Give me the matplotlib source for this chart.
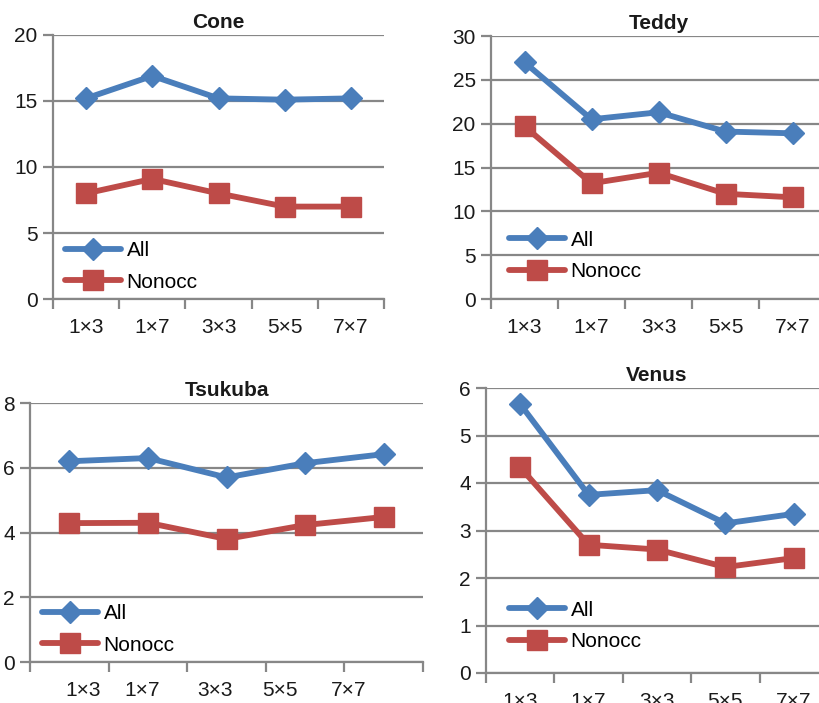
import numpy as np
import matplotlib
matplotlib.use("Agg")
import matplotlib.pyplot as plt

plt.rcParams['font.family'] = ['Liberation Sans', 'DejaVu Sans']

categories = ["1\u00d73", "1\u00d77", "3\u00d73", "5\u00d75", "7\u00d77"]
titles = ["Cone", "Teddy", "Tsukuba", "Venus"]

cone_all = [15.2, 16.9, 15.2, 15.1, 15.2]
cone_nonocc = [8.0, 9.1, 8.0, 7.0, 7.0]
teddy_all = [27.0, 20.5, 21.3, 19.1, 18.9]
teddy_nonocc = [19.7, 13.2, 14.4, 12.0, 11.6]
tsukuba_all = [6.2, 6.3, 5.7, 6.14, 6.42]
tsukuba_nonocc = [4.29, 4.3, 3.8, 4.23, 4.48]
venus_all = [5.66, 3.75, 3.85, 3.15, 3.35]
venus_nonocc = [4.33, 2.7, 2.6, 2.23, 2.42]

y_max = [20, 30, 8, 6]
y_step = [5, 5, 2, 1]

# layout in pixels: left, right, top, bottom
W, H = 819, 703
boxes = [(53, 384, 35, 299), (491, 826, 36, 299),
         (30, 423, 403, 662), (486, 828, 388, 673)]
# legend anchor (px from axes lower-left): handle start, middle between rows
legend_px = [(12, 32.5), (18, 43), (12, 32.5), (23, 47)]
# Tsukuba labels sit off-centre in the original (data units)
tsukuba_label_x = [0.175, 0.93, 1.86, 2.68, 3.55]

BLUE = "#4A7EBB"
RED = "#BE4B48"
GRID = "#878787"
TXT = "#1a1a1a"

series = [(cone_all, cone_nonocc), (teddy_all, teddy_nonocc),
          (tsukuba_all, tsukuba_nonocc), (venus_all, venus_nonocc)]

fig = plt.figure(figsize=(W / 100, H / 100), dpi=100)

for i, (all_v, non_v) in enumerate(series):
    l, r, t, b = boxes[i]
    ax = fig.add_axes([l / W, 1 - b / H, (r - l) / W, (b - t) / H])
    x = np.arange(len(categories))
    ax.plot(x, all_v, color=BLUE, lw=4.2, marker='D', ms=11, mec=BLUE,
            solid_joinstyle='round', solid_capstyle='round', label='All', zorder=3,
            clip_on=False)
    ax.plot(x, non_v, color=RED, lw=4.2, marker='s', ms=14.5, mec=RED,
            solid_joinstyle='round', solid_capstyle='round', label='Nonocc', zorder=3,
            clip_on=False)

    ax.set_xlim(-0.5, len(categories) - 0.5)
    ax.set_ylim(0, y_max[i])
    ax.set_yticks(np.arange(0, y_max[i] + 0.01, y_step[i]))
    ax.yaxis.grid(True, color=GRID, lw=1.6)
    ax.set_axisbelow(True)

    if titles[i] == "Tsukuba":
        ax.set_xticks(tsukuba_label_x)
    else:
        ax.set_xticks(x)
    ax.set_xticklabels(categories)
    ax.set_xticks(np.arange(-0.5, len(categories), 1.0), minor=True)
    ax.tick_params(axis='x', which='major', length=0, pad=14, labelsize=15, labelcolor=TXT)
    ax.tick_params(axis='x', which='minor', length=7, width=1.6, color=GRID)
    ax.tick_params(axis='y', length=7, width=1.6, color=GRID, pad=4,
                   labelsize=15, labelcolor=TXT)

    for s in ['top', 'right']:
        ax.spines[s].set_visible(False)
    for s in ['left', 'bottom']:
        ax.spines[s].set_color(GRID)
        ax.spines[s].set_linewidth(1.6)

    ax.set_title(titles[i], fontsize=15, fontweight='bold', color=TXT, pad=5)

    dx, dy = legend_px[i]
    ax.legend(loc='center left', bbox_to_anchor=(dx / (r - l), dy / (b - t)),
              frameon=False, fontsize=15, handlelength=2.7, handletextpad=0.25,
              labelspacing=0.6, borderpad=0, borderaxespad=0)

fig.savefig("out.png", dpi=100)
